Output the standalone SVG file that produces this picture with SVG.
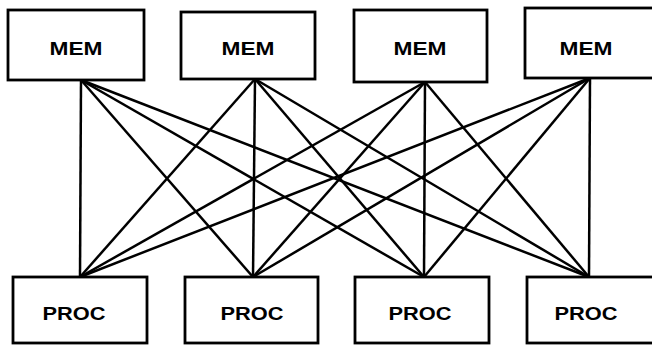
<svg xmlns="http://www.w3.org/2000/svg" width="652" height="347" viewBox="0 0 652 347">
<style>
.box{fill:#fff;stroke:#000;stroke-width:2.8}
.lbl{font-family:"Liberation Sans",Arial,sans-serif;font-weight:bold;font-size:18px;fill:#000;text-anchor:middle}
.conn line{stroke:#000;stroke-width:2.5}
</style>
<rect width="652" height="347" fill="#fff"/>
<g class="conn">
<line x1="81" y1="80" x2="80" y2="277"/>
<line x1="81" y1="80" x2="253" y2="277"/>
<line x1="81" y1="80" x2="424" y2="277"/>
<line x1="81" y1="80" x2="589" y2="277"/>
<line x1="255" y1="79" x2="80" y2="277"/>
<line x1="255" y1="79" x2="253" y2="277"/>
<line x1="255" y1="79" x2="424" y2="277"/>
<line x1="255" y1="79" x2="589" y2="277"/>
<line x1="425" y1="82" x2="80" y2="277"/>
<line x1="425" y1="82" x2="253" y2="277"/>
<line x1="425" y1="82" x2="424" y2="277"/>
<line x1="425" y1="82" x2="589" y2="277"/>
<line x1="590" y1="78" x2="80" y2="277"/>
<line x1="590" y1="78" x2="253" y2="277"/>
<line x1="590" y1="78" x2="424" y2="277"/>
<line x1="590" y1="78" x2="589" y2="277"/>
</g>
<g id="mem1"><rect class="box" x="8" y="10" width="136" height="70"/><text class="lbl" x="76" y="55" textLength="53" lengthAdjust="spacingAndGlyphs">MEM</text></g>
<g id="mem2"><rect class="box" x="181" y="12" width="134" height="67"/><text class="lbl" x="248" y="55" textLength="53" lengthAdjust="spacingAndGlyphs">MEM</text></g>
<g id="mem3"><rect class="box" x="354" y="10" width="133" height="72"/><text class="lbl" x="420" y="55" textLength="53" lengthAdjust="spacingAndGlyphs">MEM</text></g>
<g id="mem4"><rect class="box" x="525" y="8" width="132" height="70"/><text class="lbl" x="586" y="55" textLength="53" lengthAdjust="spacingAndGlyphs">MEM</text></g>
<g id="proc1"><rect class="box" x="13" y="277" width="134" height="66"/><text class="lbl" x="74" y="320" textLength="63" lengthAdjust="spacingAndGlyphs">PROC</text></g>
<g id="proc2"><rect class="box" x="185" y="277" width="133" height="66"/><text class="lbl" x="252" y="320" textLength="63" lengthAdjust="spacingAndGlyphs">PROC</text></g>
<g id="proc3"><rect class="box" x="355" y="277" width="134" height="66"/><text class="lbl" x="420" y="320" textLength="63" lengthAdjust="spacingAndGlyphs">PROC</text></g>
<g id="proc4"><rect class="box" x="527" y="277" width="130" height="66"/><text class="lbl" x="586" y="320" textLength="63" lengthAdjust="spacingAndGlyphs">PROC</text></g>
</svg>
